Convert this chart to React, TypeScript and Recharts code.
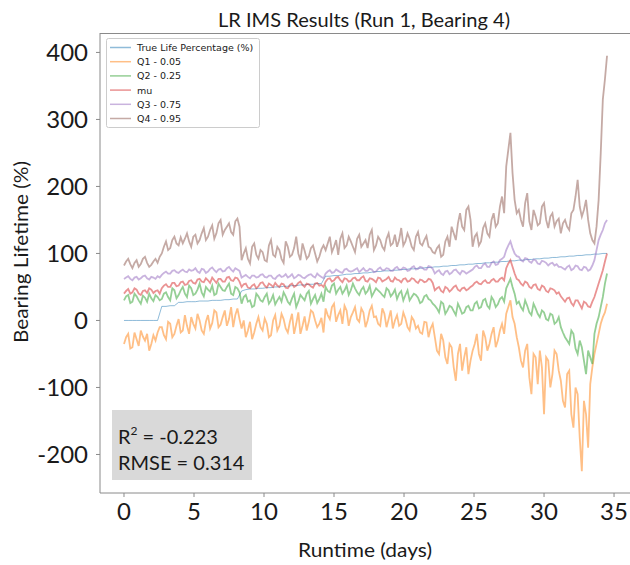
import { LineChart, Line, XAxis, YAxis } from "recharts";

// runtime in days (main samples)
const times = [
  0, 0.3, 0.6, 0.9, 1.2, 1.5, 1.8, 2.1, 2.4, 2.7, 3.0, 3.3, 3.6, 3.9, 4.2, 4.5, 4.8, 5.1, 5.4, 5.7,
  6.0, 6.3, 6.6, 6.9, 7.2, 7.5, 7.8, 8.1, 8.4, 8.7, 9.0, 9.3, 9.6, 9.9, 10.2, 10.5, 10.8, 11.1, 11.4, 11.7,
  12.0, 12.3, 12.6, 12.9, 13.2, 13.5, 13.8, 14.1, 14.4, 14.7, 15.0, 15.3, 15.6, 15.9, 16.2, 16.5, 16.8, 17.1, 17.4, 17.7,
  18.0, 18.3, 18.6, 18.9, 19.2, 19.5, 19.8, 20.1, 20.4, 20.7, 21.0, 21.3, 21.6, 21.9, 22.2, 22.5, 22.8, 23.1, 23.4, 23.7,
  24.0, 24.3, 24.6, 24.9, 25.2, 25.5, 25.8, 26.1, 26.4, 26.7, 27.0, 27.3, 27.6, 27.9, 28.2, 28.5, 28.8, 29.1, 29.4, 29.7,
  30.0, 30.3, 30.6, 30.9, 31.2, 31.5, 31.8, 32.1, 32.4, 32.7, 33.0, 33.3, 33.6, 33.9, 34.2, 34.5,
];

// in-between samples (quantile outputs only)
const midTimes = [
  0.15, 0.45, 0.75, 1.05, 1.35, 1.65, 1.95, 2.25, 2.55, 2.85, 3.15, 3.45, 3.75, 4.05, 4.35, 4.65, 4.95, 5.25, 5.55, 5.85,
  6.15, 6.45, 6.75, 7.05, 7.35, 7.65, 7.95, 8.25, 8.55, 8.85, 9.15, 9.45, 9.75, 10.05, 10.35, 10.65, 10.95, 11.25, 11.55, 11.85,
  12.15, 12.45, 12.75, 13.05, 13.35, 13.65, 13.95, 14.25, 14.55, 14.85, 15.15, 15.45, 15.75, 16.05, 16.35, 16.65, 16.95, 17.25, 17.55, 17.85,
  18.15, 18.45, 18.75, 19.05, 19.35, 19.65, 19.95, 20.25, 20.55, 20.85, 21.15, 21.45, 21.75, 22.05, 22.35, 22.65, 22.95, 23.25, 23.55, 23.85,
  24.15, 24.45, 24.75, 25.05, 25.35, 25.65, 25.95, 26.25, 26.55, 26.85, 27.15, 27.45, 27.75, 28.05, 28.35, 28.65, 28.95, 29.25, 29.55, 29.85,
  30.15, 30.45, 30.75, 31.05, 31.35, 31.65, 31.95, 32.25, 32.55, 32.85, 33.15, 33.45, 33.75, 34.05, 34.35,
];

const trueLife = [
  0, 0, 0, 0, 0, 0, 0, 0, 0,
  21, 21, 22, 22, 27, 27, 28, 28, 28, 29, 29, 29, 30, 30, 30, 31, 31, 32, 32,
  44, 46, 47, 47, 48, 48, 49, 49, 50, 50, 51, 51, 52, 52, 53, 53, 54, 54, 55, 55,
  66, 66, 67, 67, 68, 69, 69, 70, 70, 71, 71, 72, 73, 73, 74, 74, 75, 75, 76, 76, 77, 77, 78, 78, 79, 79,
  80, 80, 81, 81, 82, 82, 83, 83, 84,
  84, 85, 85, 86, 86, 87, 87, 88,
  88, 89, 89,
  90, 90, 91, 91, 92, 92, 93, 93, 94, 94,
  95, 95, 96, 96, 97, 97, 98, 98,
  99, 99, 100, 100,
];

const q1 = [
  -35, -20, -40, -28, -15, -30, -45, -22, -18,
  -10, -28, -5, -20, 2, -15, -8, 5, -12, 0, -20, 8, -4, 12, -6, 15, 2, -10, 18,
  -12, -25, -2, -18, 5, -15, -5, -22, 8, -8, 2, -18, 10, -5, -20, 6, -2, 12, -10, 4,
  18, 2, 25, 8, -5, 15, 5, 20, -2, 12, 0, 22, 6, -8, 10, 2, -12, 8, -5, 3, -15, 0, -8, -20, -3, -12,
  -25, -50, -30, -65, -40, -90, -35, -55, -80,
  -45, -20, -60, -25, -35, -10, -30, -5,
  10, 30, -5,
  -40, -70, -35, -110, -55, -45, -140, -60, -80, -50,
  -90, -130, -75, -160, -110, -225, -140, -95,
  -50, -20, 5, 25,
];
const q1Mid = [
  -25, -42, -18, -38, -24, -20, -35, -30, -10,
  -22, -2, -25, -8, -18, 8, -20, -5, 10, -15, -2, -12, 15, -10, 5, -8, 20, 8, 2,
  0, -15, -28, -5, -10, 3, -25, 0, -15, 10, -12, -2, -20, 12, -8, -15, 15, 0, -5, -18,
  8, 20, -2, 15, 22, -8, 12, 2, 18, -10, 15, 5, -5, 18, -10, 15, 0, -8, 12, -10, 5, -12, -18, -2, -25, -5,
  -45, -20, -55, -35, -70, -50, -75, -40, -60,
  -35, -50, -15, -45, -20, -40, -15, -20,
  20, 5, -25,
  -60, -45, -85, -50, -95, -70, -55, -100, -45, -75,
  -120, -80, -140, -100, -175, -120, -190, -70,
  -35, -5, 12,
];

const q2 = [
  30, 38, 28, 36, 25, 34, 40, 29, 35,
  32, 42, 30, 45, 38, 50, 35, 48, 40, 55, 36, 46, 52, 40, 50, 44, 55, 38, 48,
  25, 38, 30, 22, 36, 28, 40, 30, 24, 35, 42, 28, 33, 20, 38, 30, 44, 32, 26, 40,
  50, 42, 55, 46, 40, 52, 45, 48, 38, 50, 44, 36, 48, 42, 35, 45, 40, 32, 44, 38, 30, 40, 34, 28, 38, 30,
  22, 12, 25, 15, 20, 8, 18, 12, 22,
  15, 28, 20, 32, 18, 30, 24, 35,
  48, 62, 40,
  28, 15, 22, 8, 18, 5, 12, 0, 8, -2,
  -10, -25, -35, -20, -50, -40, -80, -55,
  -20, 5, 35, 70,
];
const q2Mid = [
  36, 26, 40, 30, 37, 28, 33, 38, 30,
  40, 35, 48, 33, 45, 40, 52, 38, 46, 42, 50, 43, 38, 55, 45, 50, 40, 50, 42,
  35, 28, 20, 40, 30, 35, 25, 38, 30, 28, 36, 24, 40, 28, 34, 40, 25, 38, 32, 28,
  44, 52, 40, 50, 45, 38, 55, 42, 46, 40, 52, 42, 45, 38, 48, 36, 46, 40, 30, 45, 35, 38, 26, 36, 32, 25,
  18, 28, 10, 22, 14, 25, 10, 20, 15,
  25, 18, 30, 22, 35, 20, 32, 28,
  55, 50, 25,
  20, 30, 12, 25, 10, 15, 2, 10, -5, 5,
  -18, -30, -15, -42, -30, -60, -45, -65,
  -5, 20, 55,
];

const mu = [
  40, 47, 42, 46, 38, 45, 48, 41, 45,
  48, 54, 50, 56, 52, 58, 54, 60, 55, 62, 57, 60, 64, 56, 62, 58, 65, 59, 63,
  50, 55, 48, 54, 51, 57, 49, 53, 56, 50, 54, 48, 55, 52, 58, 50, 54, 49, 56, 53,
  58, 63, 60, 65, 57, 62, 59, 64, 60, 66, 58, 62, 57, 63, 60, 65, 58, 61, 57, 63, 59, 62, 56, 60, 58, 61,
  45, 50, 42, 48, 46, 52, 44, 49, 47,
  52, 58, 54, 60, 56, 62, 58, 64,
  78, 90, 70,
  60, 52, 56, 48, 54, 45, 50, 42, 47, 40,
  36, 28, 34, 22, 30, 18, 26, 20,
  35, 55, 75, 100,
];
const muMid = [
  44, 40, 48, 40, 44, 41, 46, 44, 40,
  52, 50, 56, 51, 57, 53, 59, 56, 61, 58, 63, 56, 60, 62, 58, 64, 60, 64, 58,
  54, 49, 52, 48, 56, 52, 55, 50, 52, 55, 49, 53, 50, 56, 53, 55, 51, 55, 52, 50,
  62, 58, 64, 60, 63, 58, 63, 60, 64, 59, 63, 60, 64, 58, 62, 59, 64, 60, 62, 58, 63, 58, 61, 57, 62, 56,
  48, 44, 50, 43, 50, 46, 48, 45, 50,
  56, 55, 58, 56, 60, 58, 62, 60,
  85, 80, 62,
  55, 58, 50, 53, 47, 52, 44, 48, 45, 42,
  32, 33, 26, 30, 24, 28, 21, 28,
  45, 65, 88,
];

const q3 = [
  62, 66, 60, 65, 63, 67, 61, 64, 66,
  68, 73, 70, 75, 71, 76, 72, 74, 78, 71, 76, 73, 79, 72, 77, 74, 80, 73, 76,
  64, 68, 63, 67, 65, 69, 64, 67, 62, 68, 66, 64, 69, 65, 67, 63, 68, 66, 70, 65,
  70, 75, 72, 74, 71, 77, 73, 76, 72, 78, 74, 76, 73, 79, 75, 77, 74, 80, 76, 78, 75, 81, 77, 79, 76, 80,
  70, 75, 68, 74, 71, 76, 69, 73, 72,
  76, 82, 78, 85, 80, 88, 84, 92,
  105, 118, 100,
  95, 88, 92, 86, 90, 84, 88, 82, 86, 84,
  80, 76, 82, 77, 81, 75, 79, 76,
  90, 120, 135, 150,
];
const q3Mid = [
  64, 62, 64, 61, 66, 63, 65, 62, 64,
  71, 70, 74, 72, 74, 73, 76, 75, 73, 77, 71, 77, 75, 76, 73, 78, 76, 78, 74,
  66, 65, 67, 64, 68, 65, 67, 63, 66, 65, 69, 66, 63, 68, 64, 66, 69, 64, 67, 63,
  73, 71, 76, 72, 76, 74, 74, 78, 75, 74, 77, 72, 77, 75, 78, 74, 78, 76, 79, 74, 79, 76, 80, 76, 81, 77,
  73, 70, 73, 69, 75, 72, 74, 70, 74,
  80, 78, 83, 80, 86, 83, 90, 95,
  112, 108, 96,
  90, 93, 88, 91, 85, 89, 86, 85, 82, 80,
  78, 80, 75, 82, 76, 80, 74, 82,
  105, 128, 145,
];

const q4 = [
  82, 92, 78, 90, 84, 95, 80, 88, 86,
  100, 118, 108, 125, 112, 115, 130, 110, 128, 120, 138, 125, 142, 130, 150, 135, 145, 128, 152,
  90, 108, 85, 115, 92, 102, 88, 120, 95, 105, 86, 110, 98, 125, 90, 104, 96, 112, 88, 106,
  105, 125, 110, 98, 130, 112, 118, 102, 128, 115, 108, 135, 112, 120, 105, 130, 115, 110, 138, 118, 122, 105, 132, 112, 126, 108,
  100, 112, 98, 125, 140, 120, 160, 135, 170,
  110, 130, 118, 145, 125, 160, 145, 185,
  230, 280, 180,
  165, 140, 190, 135, 155, 145, 175, 138, 160, 148,
  130, 150, 135, 165, 210, 155, 180, 130,
  115, 180, 330, 395,
];
const q4Mid = [
  88, 84, 86, 80, 92, 86, 83, 92, 95,
  110, 105, 120, 115, 124, 122, 118, 125, 115, 130, 120, 135, 122, 145, 128, 140, 132, 148, 140,
  100, 92, 110, 98, 105, 90, 112, 98, 110, 92, 118, 95, 108, 100, 115, 92, 108, 100, 95, 112,
  115, 102, 120, 122, 108, 125, 110, 122, 110, 120, 128, 105, 125, 110, 122, 112, 128, 120, 112, 130, 110, 125, 115, 120, 110, 102,
  108, 95, 118, 110, 130, 145, 140, 165, 150,
  125, 112, 138, 130, 150, 140, 170, 160,
  255, 220, 160,
  150, 175, 148, 165, 142, 170, 150, 155, 140, 152,
  145, 140, 160, 185, 170, 165, 150, 120,
  140, 250, 360,
];

const xTicks = [0, 5, 10, 15, 20, 25, 30, 35];
const yTicks = [-200, -100, 0, 100, 200, 300, 400];

const series = [
  { key: "trueLife", name: "True Life Percentage (%)", color: "#1f77b4", width: 1 },
  { key: "q1", name: "Q1 - 0.05", color: "#ff7f0e", width: 1.8 },
  { key: "q2", name: "Q2 - 0.25", color: "#2ca02c", width: 1.8 },
  { key: "mu", name: "mu", color: "#d62728", width: 1.8 },
  { key: "q3", name: "Q3 - 0.75", color: "#9467bd", width: 1.8 },
  { key: "q4", name: "Q4 - 0.95", color: "#8c564b", width: 1.8 },
];

const data: any[] = [];
times.forEach((t, i) => {
  data.push({ t, trueLife: trueLife[i], q1: q1[i], q2: q2[i], mu: mu[i], q3: q3[i], q4: q4[i] });
  if (i < midTimes.length) {
    data.push({ t: midTimes[i], q1: q1Mid[i], q2: q2Mid[i], mu: muMid[i], q3: q3Mid[i], q4: q4Mid[i] });
  }
});

const font = "Lato, 'Open Sans', sans-serif";
const tickStyle = { fontSize: 24, fontFamily: font, fill: "#1a1a1a" };

export default function App() {
  return (
    <div style={{ position: "absolute", left: 0, top: 0, width: 630, height: 565, background: "#fff" }}>
      <LineChart width={630} height={565} data={data} margin={{ top: 33, right: 0, bottom: 0, left: 0 }}>
        <XAxis
          dataKey="t"
          type="number"
          domain={[-1.714, 36.14]}
          ticks={xTicks}
          allowDataOverflow
          height={72}
          tickSize={4}
          tickMargin={6}
          stroke="#8a8a8a"
          tick={tickStyle}
        />
        <YAxis
          type="number"
          domain={[-257.5, 429]}
          ticks={yTicks}
          allowDataOverflow
          width={100}
          tickSize={4}
          tickMargin={8}
          stroke="#8a8a8a"
          tick={tickStyle}
        />
        {series.map((s) => (
          <Line
            key={s.key}
            dataKey={s.key}
            name={s.name}
            type="linear"
            stroke={s.color}
            strokeOpacity={0.5}
            strokeWidth={s.width}
            dot={false}
            activeDot={false}
            connectNulls
            isAnimationActive={false}
          />
        ))}
      </LineChart>

      <svg width={630} height={565} style={{ position: "absolute", left: 0, top: 0, pointerEvents: "none" }}>
        <line x1={100} y1={33.5} x2={630} y2={33.5} stroke="#8a8a8a" />
        <text x={364} y={27} textAnchor="middle" fontFamily={font} fontSize={20} fill="#1a1a1a" textLength={292} lengthAdjust="spacingAndGlyphs">
          LR IMS Results (Run 1, Bearing 4)
        </text>
        <text x={365} y={557} textAnchor="middle" fontFamily={font} fontSize={19} fill="#1a1a1a" textLength={134} lengthAdjust="spacingAndGlyphs">
          Runtime (days)
        </text>
        <text
          x={0}
          y={0}
          transform="translate(28 252) rotate(-90)"
          textAnchor="middle"
          fontFamily={font}
          fontSize={19}
          fill="#1a1a1a"
          textLength={182}
          lengthAdjust="spacingAndGlyphs"
        >
          Bearing Lifetime (%)
        </text>

        <rect x={106.5} y={38.5} width={153} height={89} rx={2} fill="#fff" fillOpacity={0.8} stroke="#cccccc" />
        {series.map((s, i) => (
          <g key={s.key}>
            <line x1={110} x2={131} y1={47.5 + i * 14.2} y2={47.5 + i * 14.2} stroke={s.color} strokeOpacity={0.5} strokeWidth={1.5} />
            <text x={137} y={47.5 + i * 14.2} dominantBaseline="central" fontFamily="'DejaVu Sans', sans-serif" fontSize={9.5} fill="#1a1a1a">
              {s.name}
            </text>
          </g>
        ))}

        <rect x={112} y={410} width={140} height={70} fill="#d9d9d9" />
        <text x={118} y={444} fontFamily={font} fontSize={20} fill="#1a1a1a">
          R<tspan fontSize={12} dy={-9}>2</tspan>
          <tspan dy={9}> = -0.223</tspan>
        </text>
        <text x={118} y={470} fontFamily={font} fontSize={20} fill="#1a1a1a">
          RMSE = 0.314
        </text>
      </svg>
    </div>
  );
}
